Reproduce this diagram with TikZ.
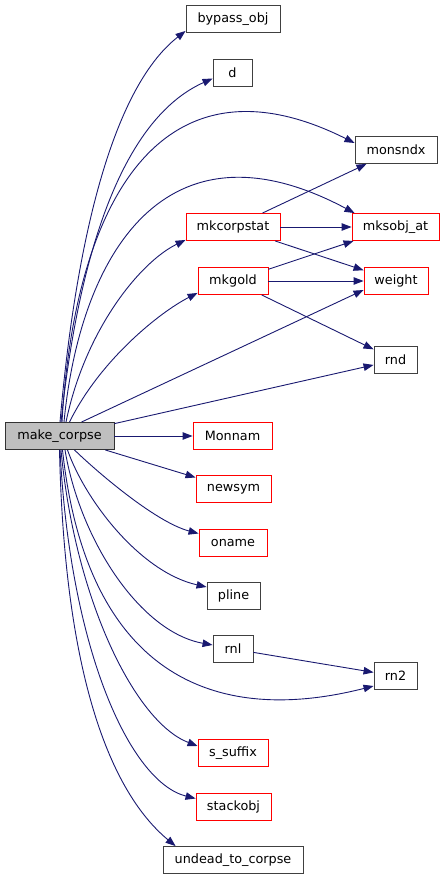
\documentclass[tikz,border=0pt]{standalone}
\usepackage{fontspec}
\setmainfont{DejaVu Sans}
\usetikzlibrary{arrows.meta}
\definecolor{edgeblue}{HTML}{191970}
\definecolor{boxgray}{HTML}{BFBFBF}

\begin{document}
\begin{tikzpicture}[x=1pt,y=1pt,
  fn/.style={draw=black!75, fill=white, line width=0.9pt, minimum height=27pt,
    inner sep=0pt, font=\fontsize{12.8}{15}\selectfont},
  fnred/.style={fn, draw=red},
  call/.style={draw=edgeblue, line width=0.9pt, -{Triangle[length=10pt,width=7.5pt]}}]
\useasboundingbox (0,0) rectangle (445,-880);

% the function and what it calls
\draw(59.5,-436) node[fn, fill=boxgray, draw=black!80, minimum width=109pt] (mc) {make\_corpse};

\draw(233,-19) node[fn, minimum width=94pt] (bypass) {bypass\_obj};
\draw(232.5,-72.5) node[fn, minimum width=39pt] (d) {d};
\draw(396,-150) node[fn, minimum width=82pt] (monsndx) {monsndx};
\draw(233,-227) node[fnred, minimum width=94pt] (mkcorpstat) {mkcorpstat};
\draw(395.5,-227) node[fnred, minimum width=87pt] (mksobj) {mksobj\_at};
\draw(233,-281) node[fnred, minimum width=70pt] (mkgold) {mkgold};
\draw(396,-281) node[fnred, minimum width=64pt] (weight) {weight};
\draw(395.5,-360) node[fn, minimum width=43pt] (rnd) {rnd};
\draw(232.5,-436) node[fnred, minimum width=79pt] (monnam) {Monnam};
\draw(233.5,-489) node[fnred, minimum width=75pt] (newsym) {newsym};
\draw(233,-542.5) node[fnred, minimum width=68pt] (oname) {oname};
\draw(233.5,-596) node[fn, minimum width=53pt] (pline) {pline};
\draw(233,-649) node[fn, minimum width=40pt] (rnl) {rnl};
\draw(395.5,-676) node[fn, minimum width=43pt] (rn2) {rn2};
\draw(233,-753) node[fnred, minimum width=70pt] (ssuffix) {s\_suffix};
\draw(233.5,-806.5) node[fnred, minimum width=75pt] (stackobj) {stackobj};
\draw(233,-860) node[fn, minimum width=140pt] (undead) {undead\_to\_corpse};

% calls from make_corpse, upwards
\draw[call] ([xshift=0.5pt]mc.north) .. controls (75,-250) and (110,-90) .. ([yshift=2pt]bypass.south west);
\draw[call] ([xshift=1.5pt]mc.north) .. controls (78,-260) and (120,-120) .. ([yshift=-6pt]d.west);
\draw[call] ([xshift=2.5pt]mc.north) .. controls (75,-195) and (165,-48) .. ([yshift=7pt]monsndx.west);
\draw[call] ([xshift=4.5pt]mc.north) .. controls (80,-255) and (165,-112) .. ([xshift=3pt]mksobj.north west);
\draw[call] ([xshift=6.5pt]mc.north) .. controls (85,-330) and (140,-262) .. ([yshift=1pt]mkcorpstat.south west);
\draw[call] ([xshift=10pt]mc.north) .. controls (100,-360) and (160,-312) .. ([yshift=2pt]mkgold.south west);
\draw[call] ([xshift=22pt]mc.north) -- ([yshift=-9pt]weight.west);
\draw[call] (mc) -- (rnd);

% calls from make_corpse, sideways and downwards
\draw[call] (mc) -- (monnam);
\draw[call] (mc) -- (newsym);
\draw[call] ([xshift=15pt]mc.south) .. controls (95,-470) and (155,-522) .. ([yshift=9pt]oname.west);
\draw[call] ([xshift=8pt]mc.south) .. controls (85,-500) and (140,-572) .. ([yshift=9pt]pline.west);
\draw[call] ([xshift=5.5pt]mc.south) .. controls (80,-540) and (140,-632) .. ([yshift=4pt]rnl.west);
\draw[call] ([xshift=3pt]mc.south) .. controls (85,-660) and (200,-730) .. ([yshift=-10pt]rn2.west);
\draw[call] ([xshift=1.5pt]mc.south) .. controls (75,-600) and (135,-722) .. ([yshift=7pt]ssuffix.west);
\draw[call] ([xshift=0.5pt]mc.south) .. controls (70,-650) and (130,-782) .. ([yshift=8pt]stackobj.west);
\draw[call] (mc.south) .. controls (65,-700) and (120,-800) .. ([xshift=13pt]undead.north west);

% second level
\draw[call] (mkcorpstat) -- (monsndx);
\draw[call] (mkcorpstat) -- (mksobj);
\draw[call] (mkcorpstat) -- (weight);
\draw[call] (mkgold) -- (mksobj);
\draw[call] (mkgold) -- (weight);
\draw[call] (mkgold) -- (rnd);
\draw[call] (rnl) -- (rn2);
\end{tikzpicture}
\end{document}
